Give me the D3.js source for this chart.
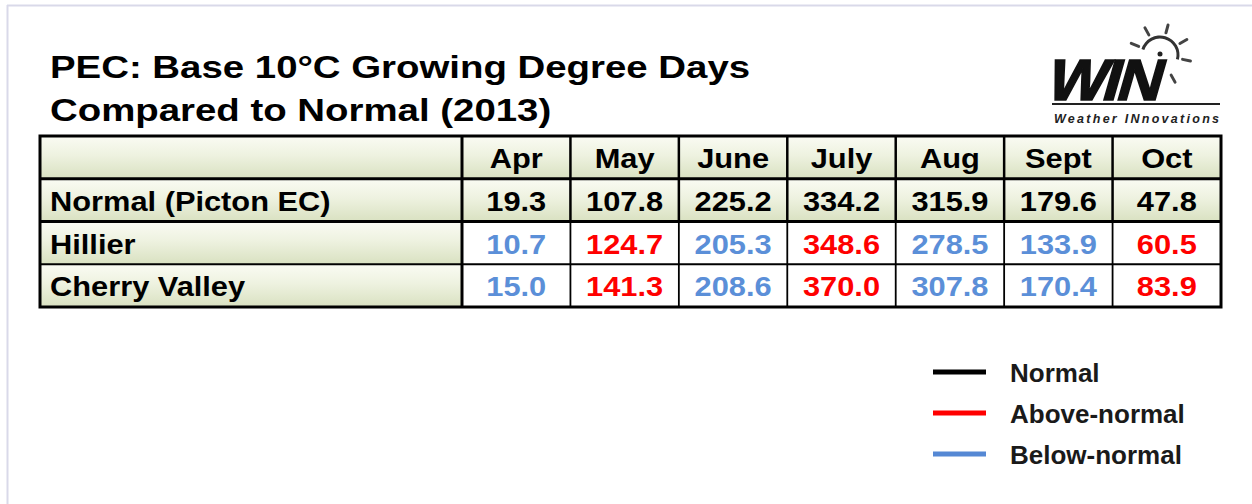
<!DOCTYPE html>
<html><head><meta charset="utf-8">
<script src="https://cdn.jsdelivr.net/npm/d3@7"></script>
<style>html,body{margin:0;padding:0;background:#fff;}svg{display:block;}</style>
</head><body>
<script>
const months = ["Apr","May","June","July","Aug","Sept","Oct"];
const rowLabels = ["Normal (Picton EC)","Hillier","Cherry Valley"];
const normalVals = [19.3,107.8,225.2,334.2,315.9,179.6,47.8];
const hillierVals = [10.7,124.7,205.3,348.6,278.5,133.9,60.5];
const cherryVals = [15.0,141.3,208.6,370.0,307.8,170.4,83.9];
const titleLines = ["PEC: Base 10°C Growing Degree Days","Compared to Normal (2013)"];
const legendItems = ["Normal","Above-normal","Below-normal"];
const legendColors = ["#000000","#ff0000","#5588d4"];

const W = 1252, H = 504;
const RED = "#ff0000", BLUE = "#5b8fd8";
const svg = d3.select("body").append("svg").attr("width", W).attr("height", H);
const FONT = "'Liberation Sans', Arial, sans-serif";

// frame
svg.append("line").attr("x1",7.5).attr("x2",7.5).attr("y1",5).attr("y2",H).attr("stroke","#d9d9e9").attr("stroke-width",2);
svg.append("line").attr("x1",7).attr("x2",W).attr("y1",5.5).attr("y2",5.5).attr("stroke","#d9d9e9").attr("stroke-width",2);

// gradient
const defs = svg.append("defs");
const gr = defs.append("linearGradient").attr("id","cellg").attr("x1",0).attr("x2",0).attr("y1",0).attr("y2",1);
gr.append("stop").attr("offset","0%").attr("stop-color","#fafbf3");
gr.append("stop").attr("offset","45%").attr("stop-color","#eef2e0");
gr.append("stop").attr("offset","100%").attr("stop-color","#d9e1c1");

// title
svg.selectAll("text.title").data(titleLines).join("text").attr("class","title")
  .attr("transform",(d,i)=>`translate(50,${78+i*43}) scale(1.2,1)`)
  .attr("font-family",FONT).attr("font-weight","bold").attr("font-size",32).attr("fill","#000").text(d=>d);

// table scales
const x = d3.scaleBand().domain(months).range([462,1221]).paddingInner(0);
const rows = ["header"].concat(rowLabels);
const y = d3.scaleBand().domain(rows).range([136,307]);
const labelX0 = 40, labelX1 = 462;

const tbl = svg.append("g");
tbl.selectAll("rect.lab").data(rows).join("rect").attr("class","lab")
  .attr("x",labelX0).attr("y",d=>y(d)).attr("width",labelX1-labelX0).attr("height",y.bandwidth())
  .attr("fill","url(#cellg)");
const cellData = [];
rows.forEach((r,ri)=>months.forEach(m=>cellData.push({r,ri,m})));
tbl.selectAll("rect.cell").data(cellData).join("rect").attr("class","cell")
  .attr("x",d=>x(d.m)).attr("y",d=>y(d.r)).attr("width",x.bandwidth()).attr("height",y.bandwidth())
  .attr("fill",d=>d.ri<2?"url(#cellg)":"#ffffff");

months.slice(1).forEach(m=>{
  tbl.append("line").attr("x1",x(m)).attr("x2",x(m)).attr("y1",y("header")).attr("y2",y("Hillier"))
    .attr("stroke","#000").attr("stroke-width",2.5);
  tbl.append("line").attr("x1",x(m)).attr("x2",x(m)).attr("y1",y("Hillier")).attr("y2",307)
    .attr("stroke","#000").attr("stroke-width",1.8);
});
tbl.append("line").attr("x1",labelX1).attr("x2",labelX1).attr("y1",136).attr("y2",307).attr("stroke","#000").attr("stroke-width",3);
tbl.append("line").attr("x1",labelX0).attr("x2",1221).attr("y1",y(rowLabels[0])).attr("y2",y(rowLabels[0])).attr("stroke","#000").attr("stroke-width",3);
tbl.append("line").attr("x1",labelX0).attr("x2",1221).attr("y1",y("Hillier")).attr("y2",y("Hillier")).attr("stroke","#000").attr("stroke-width",3);
tbl.append("line").attr("x1",labelX0).attr("x2",1221).attr("y1",y("Cherry Valley")).attr("y2",y("Cherry Valley")).attr("stroke","#000").attr("stroke-width",1.8);
tbl.append("rect").attr("x",labelX0).attr("y",136).attr("width",1221-labelX0).attr("height",307-136)
  .attr("fill","none").attr("stroke","#000").attr("stroke-width",3);

const SX = 1.1, FS = 28;
const baseOff = 32;
tbl.selectAll("text.mh").data(months).join("text").attr("class","mh")
  .attr("transform",d=>`translate(${x(d)+x.bandwidth()/2},${y("header")+baseOff}) scale(${SX},1)`)
  .attr("text-anchor","middle").attr("font-family",FONT).attr("font-weight","bold").attr("font-size",FS).text(d=>d);
tbl.selectAll("text.rl").data(rowLabels).join("text").attr("class","rl")
  .attr("transform",d=>`translate(50,${y(d)+baseOff}) scale(${SX},1)`)
  .attr("font-family",FONT).attr("font-weight","bold").attr("font-size",FS).text(d=>d);
const series = [
  {row:rowLabels[0], vals:normalVals},
  {row:rowLabels[1], vals:hillierVals},
  {row:rowLabels[2], vals:cherryVals}
];
series.forEach((s,si)=>{
  tbl.selectAll(null).data(s.vals).join("text")
    .attr("transform",(d,i)=>`translate(${x(months[i])+x.bandwidth()/2},${y(s.row)+baseOff}) scale(${SX},1)`)
    .attr("text-anchor","middle").attr("font-family",FONT).attr("font-weight","bold").attr("font-size",FS)
    .attr("fill",(d,i)=> si===0 ? "#000" : (d>normalVals[i] ? RED : BLUE))
    .text(d=>d.toFixed(1));
});

// legend
const lg = svg.append("g");
lg.selectAll("line").data(legendItems).join("line")
  .attr("x1",933).attr("x2",986).attr("y1",(d,i)=>372+i*41).attr("y2",(d,i)=>372+i*41)
  .attr("stroke",(d,i)=>legendColors[i]).attr("stroke-width",5);
lg.selectAll("text").data(legendItems).join("text")
  .attr("x",1010).attr("y",(d,i)=>382+i*41)
  .attr("font-family",FONT).attr("font-weight","bold").attr("font-size",26).attr("fill","#1a1a1a").text(d=>d);

// logo
const logo = svg.append("g");
const cx = 1160, cy = 55, rr = 18;
const arc = d3.arc().innerRadius(rr-1.5).outerRadius(rr+1.5).startAngle(-Math.PI*0.40).endAngle(Math.PI*0.58);
logo.append("path").attr("d",arc()).attr("transform",`translate(${cx},${cy})`).attr("fill","#333");
[-68,-29,15,60,101,151].forEach(a=>{
  const t = (a-90)*Math.PI/180;
  logo.append("line").attr("x1",cx+Math.cos(t)*(rr+5)).attr("y1",cy+Math.sin(t)*(rr+5))
    .attr("x2",cx+Math.cos(t)*(rr+13)).attr("y2",cy+Math.sin(t)*(rr+13))
    .attr("stroke","#444").attr("stroke-width",3).attr("stroke-linecap","round");
});
logo.append("text").attr("transform","translate(1044,100) skewX(-16) scale(1.08,1)")
  .attr("font-family",FONT).attr("font-weight","bold").attr("font-size",58)
  .attr("letter-spacing",-3).attr("fill","#111").attr("stroke","#111").attr("stroke-width",1.5).text("WIN");
logo.append("circle").attr("cx",cx).attr("cy",cy-1).attr("r",2.5).attr("fill","#222");
logo.append("line").attr("x1",1052).attr("x2",1220).attr("y1",104).attr("y2",104).attr("stroke","#222").attr("stroke-width",2);
logo.append("text").attr("x",1054).attr("y",123).attr("font-family",FONT).attr("font-weight","bold").attr("font-style","italic")
  .attr("font-size",12.5).attr("fill","#222").attr("textLength",165).text("Weather INnovations");
</script>
</body></html>
